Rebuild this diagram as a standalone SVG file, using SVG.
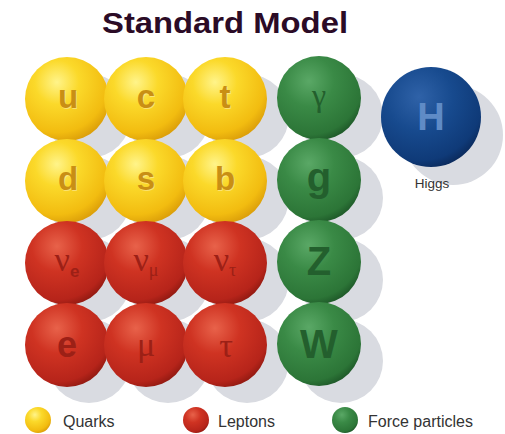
<svg xmlns="http://www.w3.org/2000/svg" width="505" height="434" viewBox="0 0 505 434">
<defs>
<radialGradient id="gy" cx="0.38" cy="0.3" r="0.75">
<stop offset="0" stop-color="#fff48a"/>
<stop offset="0.35" stop-color="#fbd92a"/>
<stop offset="0.8" stop-color="#f2bc10"/>
<stop offset="1" stop-color="#d89a08"/>
</radialGradient>
<radialGradient id="gr" cx="0.38" cy="0.3" r="0.75">
<stop offset="0" stop-color="#e8624a"/>
<stop offset="0.4" stop-color="#cf3322"/>
<stop offset="0.85" stop-color="#b6241a"/>
<stop offset="1" stop-color="#8c1810"/>
</radialGradient>
<radialGradient id="gg" cx="0.38" cy="0.3" r="0.75">
<stop offset="0" stop-color="#5aa866"/>
<stop offset="0.4" stop-color="#3a8a46"/>
<stop offset="0.85" stop-color="#2c7537"/>
<stop offset="1" stop-color="#1c5426"/>
</radialGradient>
<radialGradient id="gb" cx="0.38" cy="0.3" r="0.75">
<stop offset="0" stop-color="#2f62a8"/>
<stop offset="0.45" stop-color="#174a8e"/>
<stop offset="0.85" stop-color="#0f3a78"/>
<stop offset="1" stop-color="#0a2858"/>
</radialGradient>
</defs>
<style>
.sh{fill:#d9dbe1}
.by{fill:url(#gy)}
.br{fill:url(#gr)}
.bg{fill:url(#gg)}
.bb{fill:url(#gb)}
.ls{font-family:"Liberation Sans",Arial,sans-serif;font-weight:bold;text-anchor:middle}
.lf{font-family:"Liberation Serif","Times New Roman",serif;text-anchor:middle}
.ty{fill:#c98f14}
.tr{fill:#9c2016}
.tg{fill:#235f2d}
.th{fill:#5f8bc6}
.hl{fill:#ffffff;opacity:0.35}
.lg{font-family:"Liberation Sans",Arial,sans-serif;font-size:16px;fill:#333333}
</style>
<rect width="505" height="434" fill="#ffffff"/>
<text x="102" y="33" font-family="Liberation Sans,Arial,sans-serif" font-weight="bold" font-size="30" fill="#2b0b26" textLength="246" lengthAdjust="spacingAndGlyphs">Standard Model</text>
<g id="shadows">
<circle class="sh" cx="89" cy="116" r="42"/><circle class="sh" cx="168" cy="116" r="42"/><circle class="sh" cx="247" cy="116" r="42"/><circle class="sh" cx="341" cy="116" r="42"/>
<circle class="sh" cx="89" cy="198" r="42"/><circle class="sh" cx="168" cy="198" r="42"/><circle class="sh" cx="247" cy="198" r="42"/><circle class="sh" cx="341" cy="198" r="42"/>
<circle class="sh" cx="89" cy="280" r="42"/><circle class="sh" cx="168" cy="280" r="42"/><circle class="sh" cx="247" cy="280" r="42"/><circle class="sh" cx="341" cy="280" r="42"/>
<circle class="sh" cx="89" cy="361" r="42"/><circle class="sh" cx="168" cy="361" r="42"/><circle class="sh" cx="247" cy="361" r="42"/><circle class="sh" cx="341" cy="361" r="42"/>
<circle class="sh" cx="453" cy="135" r="50"/>
</g>
<g id="u"><circle class="by" cx="67" cy="99" r="42"/><text class="ls hl" x="69" y="109" font-size="33">u</text><text class="ls ty" x="68" y="108" font-size="33">u</text></g>
<g id="c"><circle class="by" cx="146" cy="99" r="42"/><text class="ls hl" x="147" y="109" font-size="33">c</text><text class="ls ty" x="146" y="108" font-size="33">c</text></g>
<g id="t"><circle class="by" cx="225" cy="99" r="42"/><text class="ls hl" x="226" y="109" font-size="33">t</text><text class="ls ty" x="225" y="108" font-size="33">t</text></g>
<g id="d"><circle class="by" cx="67" cy="181" r="42"/><text class="ls hl" x="69" y="191" font-size="33">d</text><text class="ls ty" x="68" y="190" font-size="33">d</text></g>
<g id="s"><circle class="by" cx="146" cy="181" r="42"/><text class="ls hl" x="147" y="191" font-size="33">s</text><text class="ls ty" x="146" y="190" font-size="33">s</text></g>
<g id="b"><circle class="by" cx="225" cy="181" r="42"/><text class="ls hl" x="226" y="191" font-size="33">b</text><text class="ls ty" x="225" y="190" font-size="33">b</text></g>
<g id="nu_e"><circle class="br" cx="67" cy="263" r="42"/><text class="lf tr" x="67" y="271" font-size="34">ν<tspan font-family="Liberation Sans,Arial,sans-serif" font-weight="bold" font-size="17" dy="6">e</tspan></text></g>
<g id="nu_mu"><circle class="br" cx="146" cy="263" r="42"/><text class="lf tr" x="146" y="271" font-size="34">ν<tspan font-size="18" dy="5">μ</tspan></text></g>
<g id="nu_tau"><circle class="br" cx="225" cy="263" r="42"/><text class="lf tr" x="225" y="271" font-size="34">ν<tspan font-size="18" dy="5">τ</tspan></text></g>
<g id="e"><circle class="br" cx="67" cy="345" r="42"/><text class="ls tr" x="67" y="357" font-size="36">e</text></g>
<g id="mu"><circle class="br" cx="146" cy="345" r="42"/><text class="lf tr" x="146" y="356" font-size="34">μ</text></g>
<g id="tau"><circle class="br" cx="225" cy="345" r="42"/><text class="lf tr" x="226" y="357" font-size="34">τ</text></g>
<g id="gamma"><circle class="bg" cx="319" cy="98" r="42"/><text class="lf tg" x="319" y="106" font-size="32">γ</text></g>
<g id="g"><circle class="bg" cx="319" cy="180" r="42"/><text class="ls tg" x="319" y="191" font-size="40">g</text></g>
<g id="Z"><circle class="bg" cx="319" cy="262" r="42"/><text class="ls tg" x="319" y="275" font-size="40">Z</text></g>
<g id="W"><circle class="bg" cx="319" cy="344" r="42"/><text class="ls tg" x="319" y="358" font-size="40">W</text></g>
<g id="H"><circle class="bb" cx="431" cy="117" r="50"/><text class="ls th" x="431" y="130" font-size="38">H</text><text x="432" y="188" font-family="Liberation Sans,Arial,sans-serif" font-size="13.5" fill="#333333" text-anchor="middle">Higgs</text></g>
<g id="connectors"/>
<g id="legend">
<g id="leg-quarks"><circle class="by" cx="38" cy="420" r="13"/><text class="lg" x="63" y="427">Quarks</text></g>
<g id="leg-leptons"><circle class="br" cx="196" cy="420" r="13"/><text class="lg" x="218" y="427">Leptons</text></g>
<g id="leg-force"><circle class="bg" cx="345" cy="420" r="13"/><text class="lg" x="368" y="427">Force particles</text></g>
</g>
</svg>
